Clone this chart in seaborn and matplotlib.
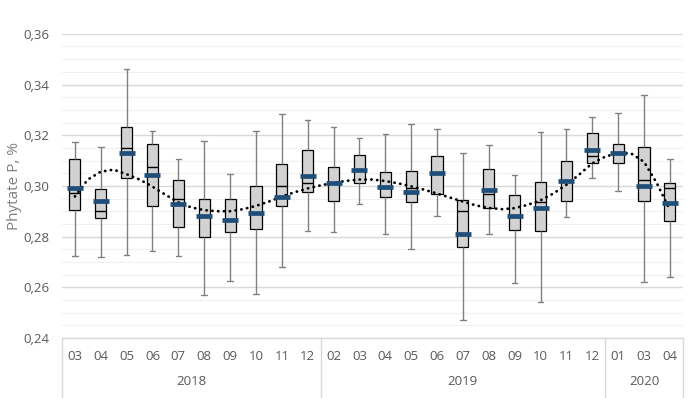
import matplotlib
matplotlib.use("Agg")
import matplotlib.pyplot as plt
from matplotlib.ticker import FuncFormatter, MultipleLocator
import numpy as np
import pandas as pd
import seaborn as sns

# Categories: sampling month, grouped by year
years = ["2018"] * 10 + ["2019"] * 11 + ["2020"] * 3
months = ["03", "04", "05", "06", "07", "08", "09", "10", "11", "12",
          "02", "03", "04", "05", "06", "07", "08", "09", "10", "11", "12",
          "01", "03", "04"]

# Box summary values (phytate P, %)
whisker_low = [0.2725, 0.2721, 0.2729, 0.2742, 0.2724, 0.2570, 0.2624, 0.2575, 0.2680, 0.2820,
               0.2816, 0.2928, 0.2811, 0.2750, 0.2880, 0.2470, 0.2809, 0.2616, 0.2541, 0.2878, 0.3032,
               0.2981, 0.2622, 0.2642]
q1 = [0.2903, 0.2872, 0.3033, 0.2922, 0.2836, 0.2798, 0.2818, 0.2828, 0.2922, 0.2975,
      0.2941, 0.3011, 0.2957, 0.2936, 0.2968, 0.2757, 0.2911, 0.2824, 0.2822, 0.2942, 0.3090,
      0.3089, 0.2941, 0.2863]
median = [0.2972, 0.2901, 0.3149, 0.3075, 0.2948, 0.2882, 0.2866, 0.2892, 0.3001, 0.3010,
          0.3010, 0.3063, 0.2996, 0.2993, 0.3049, 0.2900, 0.2966, 0.2883, 0.2935, 0.3021, 0.3117,
          0.3129, 0.3025, 0.2990]
q3 = [0.3107, 0.2986, 0.3234, 0.3165, 0.3023, 0.2949, 0.2949, 0.2999, 0.3086, 0.3142,
      0.3074, 0.3120, 0.3055, 0.3058, 0.3118, 0.2946, 0.3065, 0.2965, 0.3016, 0.3100, 0.3208,
      0.3166, 0.3155, 0.3012]
whisker_high = [0.3173, 0.3155, 0.3463, 0.3216, 0.3105, 0.3176, 0.3047, 0.3218, 0.3283, 0.3258,
                0.3234, 0.3190, 0.3203, 0.3244, 0.3226, 0.3128, 0.3163, 0.3044, 0.3214, 0.3224, 0.3271,
                0.3287, 0.3360, 0.3105]
mean = [0.2993, 0.2942, 0.3130, 0.3042, 0.2930, 0.2882, 0.2866, 0.2892, 0.2957, 0.3037,
        0.3010, 0.3063, 0.2996, 0.2977, 0.3049, 0.2811, 0.2983, 0.2883, 0.2911, 0.3021, 0.3143,
        0.3130, 0.3001, 0.2934]

# Trend line read at every half category step
trend_pos = np.arange(47) / 2
trend = [0.2958, 0.3025, 0.3056, 0.3064, 0.3046, 0.3025, 0.2997, 0.2965, 0.2935, 0.2915,
         0.2904, 0.2900, 0.2900, 0.2908, 0.2921, 0.2938, 0.2958, 0.2975, 0.2990, 0.3002,
         0.3012, 0.3020, 0.3025, 0.3025, 0.3019, 0.3010, 0.2998, 0.2985, 0.2970, 0.2954,
         0.2938, 0.2923, 0.2913, 0.2908, 0.2912, 0.2925, 0.2943, 0.2970, 0.3004, 0.3045,
         0.3089, 0.3115, 0.3130, 0.3128, 0.3095, 0.3010, 0.2905]

labels = [f"{y}-{m}" for y, m in zip(years, months)]
rows = []
for i, lab in enumerate(labels):
    for v in (whisker_low[i], q1[i], median[i], q3[i], whisker_high[i]):
        rows.append({"month": lab, "value": v})
df = pd.DataFrame(rows)

sns.set_style("white")
plt.rcParams["font.family"] = ["Open Sans", "DejaVu Sans"]

fig, ax = plt.subplots(figsize=(6.96, 3.98), dpi=100)
fig.subplots_adjust(left=0.089, right=0.981, top=0.915, bottom=0.151)

grey_txt = "#595959"

sns.boxplot(data=df, x="month", y="value", order=labels, whis=(0, 100), width=0.43,
            color="#d2d2d2", saturation=1, linecolor="black", linewidth=0.9,
            showfliers=False,
            whiskerprops=dict(color="#808080", linewidth=1.0),
            capprops=dict(color="#808080", linewidth=1.0),
            medianprops=dict(color="black", linewidth=1.0),
            ax=ax)

sns.lineplot(x=trend_pos, y=trend, ax=ax, color="black", linewidth=2.0,
             linestyle=(0, (0.1, 2.0)), dash_capstyle="round", zorder=4)

ax.plot(np.arange(len(mean)), mean, ls="none", marker="_", ms=11.5, mew=3.4,
        color="#1f4e79", zorder=5)

ax.set_xlim(-0.5, len(labels) - 0.5)
ax.set_ylim(0.24, 0.36)
ax.yaxis.set_major_locator(MultipleLocator(0.02))
ax.yaxis.set_minor_locator(MultipleLocator(0.005))
ax.yaxis.set_major_formatter(FuncFormatter(lambda v, p: f"{v:.2f}".replace(".", ",")))
ax.grid(which="major", axis="y", color="#d9d9d9", linewidth=1.0)
ax.grid(which="minor", axis="y", color="#f0f0f0", linewidth=0.8)
ax.set_axisbelow(True)

ax.set_xticks(range(len(labels)))
ax.set_xticklabels(months)
ax.tick_params(axis="x", length=0, pad=9, labelsize=9.5, labelcolor=grey_txt)
ax.tick_params(axis="y", which="both", length=0, pad=9, labelsize=9.5, labelcolor=grey_txt)

for s in ("top", "right", "left"):
    ax.spines[s].set_visible(False)
ax.spines["bottom"].set_color("#d9d9d9")
ax.spines["bottom"].set_linewidth(1.0)

ax.set_xlabel("")
ax.set_ylabel("Phytate P, %", fontsize=11, color="#7f7f7f", labelpad=1)

# year separators and year labels
bounds = [-0.5, 9.5, 20.5, len(labels) - 0.5]
ax.vlines(bounds, -0.2, 0, transform=ax.get_xaxis_transform(), clip_on=False,
          color="#d9d9d9", linewidth=1.0)
for y in ["2018", "2019", "2020"]:
    idx = [i for i, yy in enumerate(years) if yy == y]
    ax.text((idx[0] + idx[-1]) / 2, -0.145, y, transform=ax.get_xaxis_transform(),
            ha="center", va="center", fontsize=9.5, color=grey_txt)

fig.savefig("out.png", dpi=100)
